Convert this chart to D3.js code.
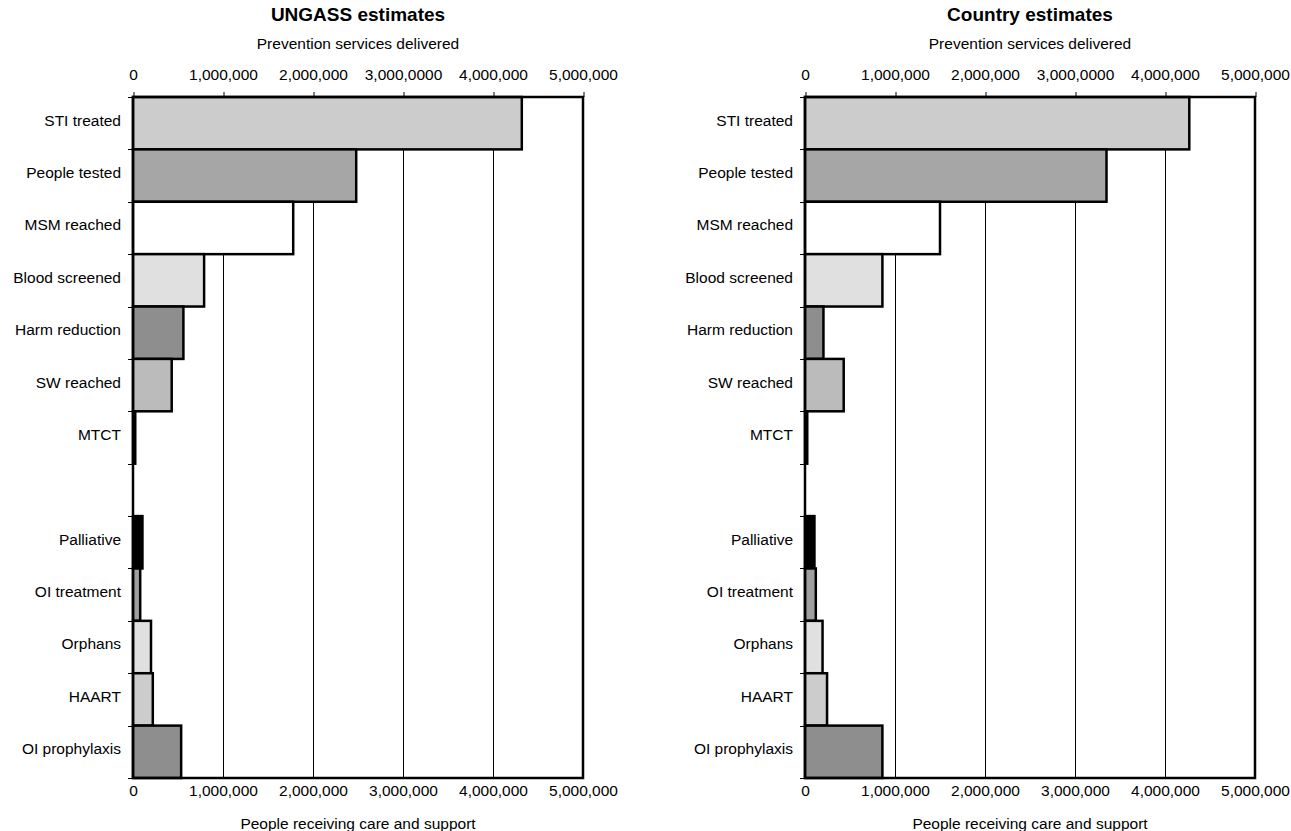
<!DOCTYPE html>
<html><head><meta charset="utf-8">
<script src="https://cdn.jsdelivr.net/npm/d3@7"></script>
<style>
html,body{margin:0;padding:0;background:#fff;}
text{font-family:"Liberation Sans",Arial,sans-serif;fill:#000;}
</style></head>
<body><svg id="chart" width="1291" height="831"></svg>
<script>
const preventionCategories = ["STI treated","People tested","MSM reached","Blood screened","Harm reduction","SW reached","MTCT"];
const careCategories = ["Palliative","OI treatment","Orphans","HAART","OI prophylaxis"];
const preventionColors = ["#cccccc","#a6a6a6","#ffffff","#e0e0e0","#8e8e8e","#bbbbbb","#000000"];
const careColors = ["#000000","#a0a0a0","#e0e0e0","#cccccc","#8e8e8e"];
const ungassPrevention = [4320000, 2480000, 1780000, 790000, 560000, 430000, 25000];
const ungassCare = [105000, 80000, 200000, 220000, 535000];
const countryPrevention = [4270000, 3350000, 1500000, 860000, 205000, 430000, 25000];
const countryCare = [105000, 120000, 195000, 245000, 860000];
const tickValues = [0, 1000000, 2000000, 3000000, 4000000, 5000000];
const topTickLabels = ["0","1,000,000","2,000,000","3,000,0000","4,000,000","5,000,000"];
const bottomTickLabels = ["0","1,000,000","2,000,000","3,000,000","4,000,000","5,000,000"];
const panelTitles = ["UNGASS estimates","Country estimates"];
const topAxisTitle = "Prevention services delivered";
const bottomAxisTitle = "People receiving care and support";

const svg = d3.select("#chart");
const GAP = "__gap__";
const domain = [...preventionCategories, GAP, ...careCategories];
const FS = "15.5px";

function panel(x0, title, prevVals, careVals){
  const top = 97, bottom = 778, right = x0 + 450;
  const x = d3.scaleLinear().domain([0, 5000000]).range([x0, right]);
  const y = d3.scaleBand().domain(domain).range([top, bottom]).padding(0);
  const g = svg.append("g");
  const cx = (x0 + right) / 2;

  g.append("text").attr("x", cx).attr("y", 21).attr("text-anchor","middle")
    .style("font-size","19px").style("font-weight","bold").text(title);
  g.append("text").attr("x", cx).attr("y", 49).attr("text-anchor","middle")
    .style("font-size",FS).text(topAxisTitle);
  g.append("text").attr("x", cx).attr("y", 829).attr("text-anchor","middle")
    .style("font-size",FS).text(bottomAxisTitle);

  // gridlines
  g.append("g").selectAll("line").data(tickValues.slice(1,5)).join("line")
    .attr("x1", d=>x(d)+0.5).attr("x2", d=>x(d)+0.5).attr("y1", top).attr("y2", bottom)
    .attr("stroke","#000").attr("stroke-width",1);

  // top axis
  const ta = g.append("g").attr("transform",`translate(0,${top})`)
    .call(d3.axisTop(x).tickValues(tickValues).tickFormat((d,i)=>topTickLabels[i]).tickSize(5).tickSizeOuter(0).tickPadding(12));
  ta.select(".domain").remove();
  ta.selectAll("text").style("font-size",FS);
  ta.selectAll("line").attr("stroke-width",1).attr("transform","translate(0.5,0)");

  // bottom axis labels
  const ba = g.append("g").attr("transform",`translate(0,${bottom})`)
    .call(d3.axisBottom(x).tickValues(tickValues).tickFormat((d,i)=>bottomTickLabels[i]).tickSize(0).tickPadding(7));
  ba.select(".domain").remove();
  ba.selectAll("text").style("font-size",FS);

  // bars
  const rows = [
    ...preventionCategories.map((c,i)=>({c, v:prevVals[i], f:preventionColors[i]})),
    ...careCategories.map((c,i)=>({c, v:careVals[i], f:careColors[i]}))
  ];
  g.append("g").selectAll("rect").data(rows).join("rect")
    .attr("x", x(0)).attr("y", d=>y(d.c))
    .attr("width", d=>x(d.v)-x(0)).attr("height", y.bandwidth())
    .attr("fill", d=>d.f).attr("stroke","#000").attr("stroke-width",2.5);

  // left axis with ticks at band boundaries
  const bounds = domain.map(d=>y(d)).concat([bottom]);
  g.append("g").selectAll("line").data(bounds).join("line")
    .attr("x1", x0-5).attr("x2", x0).attr("y1", d=>Math.round(d)+0.5).attr("y2", d=>Math.round(d)+0.5)
    .attr("stroke","#000").attr("stroke-width",1);
  g.append("g").selectAll("text").data(domain.filter(d=>d!==GAP)).join("text")
    .attr("x", x0-12).attr("y", d=>y(d)+y.bandwidth()/2 - 3).attr("dy","0.35em")
    .attr("text-anchor","end").style("font-size",FS).text(d=>d);

  // frame
  g.append("rect").attr("x", x0).attr("y", top).attr("width", right-x0).attr("height", bottom-top)
    .attr("fill","none").attr("stroke","#000").attr("stroke-width",2.5);
}

panel(133, panelTitles[0], ungassPrevention, ungassCare);
panel(805, panelTitles[1], countryPrevention, countryCare);
</script></body></html>
